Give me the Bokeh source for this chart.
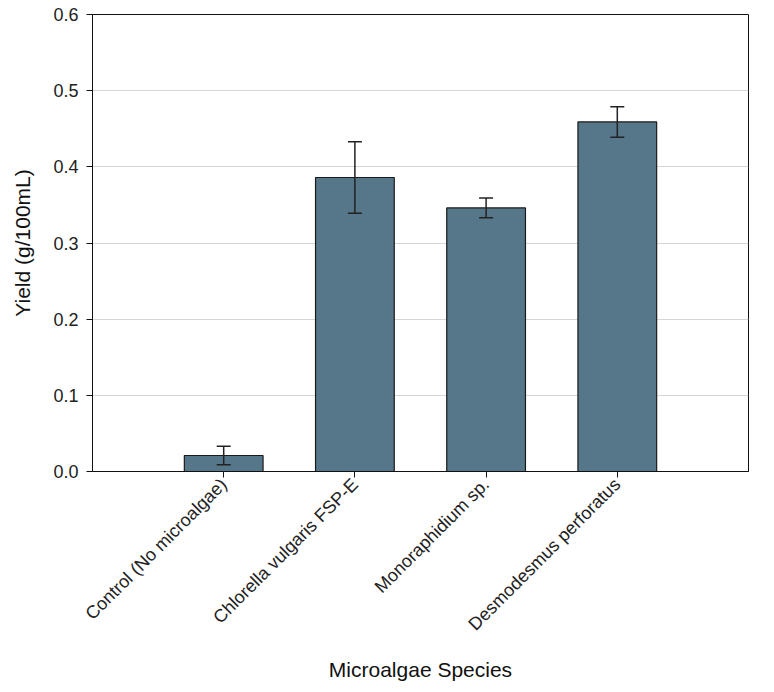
import math
from bokeh.plotting import figure
from bokeh.models import ColumnDataSource, Whisker, FixedTicker, PrintfTickFormatter, Range1d, TeeHead
from bokeh.embed import file_html
from bokeh.resources import INLINE

categories = ["Control (No microalgae)", "Chlorella vulgaris FSP-E", "Monoraphidium sp.", "Desmodesmus perforatus"]
yields = [0.021, 0.386, 0.346, 0.459]
errors = [0.012, 0.047, 0.013, 0.020]
y_ticks = [0.0, 0.1, 0.2, 0.3, 0.4, 0.5, 0.6]

xpos = [i + 1 for i in range(len(categories))]
src = ColumnDataSource(dict(
    x=xpos, y=yields,
    upper=[v + e for v, e in zip(yields, errors)],
    lower=[v - e for v, e in zip(yields, errors)],
))

p = figure(frame_width=656, frame_height=457, output_backend="svg", toolbar_location=None,
           x_range=Range1d(0, len(categories) + 1), y_range=Range1d(0, 0.6),
           min_border_left=92, min_border_right=10, min_border_top=14, min_border_bottom=205)

p.vbar(x="x", top="y", width=0.6, bottom=0, source=src,
       fill_color="#557789", line_color="#1a1a1a", line_width=1.2)

w = Whisker(base="x", upper="upper", lower="lower", source=src, level="overlay",
            line_color="#222222", line_width=1.5,
            upper_head=TeeHead(size=14, line_color="#222222", line_width=1.5),
            lower_head=TeeHead(size=14, line_color="#222222", line_width=1.5))
p.add_layout(w)

font = "Liberation Sans"
p.xaxis.ticker = FixedTicker(ticks=xpos)
p.xaxis.major_label_overrides = {x: c for x, c in zip(xpos, categories)}
p.xaxis.major_label_orientation = math.pi / 4
p.xaxis.axis_label = "Microalgae Species"
p.xaxis.axis_label_standoff = 14

p.yaxis.ticker = FixedTicker(ticks=y_ticks)
p.yaxis.formatter = PrintfTickFormatter(format="%.1f")
p.yaxis.axis_label = "Yield (g/100mL)"
p.yaxis.axis_label_standoff = 16

for ax in (p.xaxis, p.yaxis):
    ax.major_label_text_font = font
    ax.major_label_text_font_size = "18px"
    ax.major_label_text_color = "#222222"
    ax.axis_label_text_font = font
    ax.axis_label_text_font_style = "normal"
    ax.axis_label_text_font_size = "21px"
    ax.axis_label_text_color = "#111111"
    ax.major_tick_out = 6
    ax.major_tick_in = 0
    ax.minor_tick_line_color = None
    ax.axis_line_color = "#111111"
    ax.major_tick_line_color = "#111111"

p.yaxis.major_label_standoff = 8
p.xaxis.major_label_standoff = 4

p.xgrid.grid_line_color = None
p.ygrid.grid_line_color = "#d6d6d6"
p.ygrid.grid_line_width = 1
p.outline_line_color = "#111111"
p.outline_line_width = 1
p.outline_line_alpha = 1

open("out.html", "w").write(file_html(p, INLINE))
